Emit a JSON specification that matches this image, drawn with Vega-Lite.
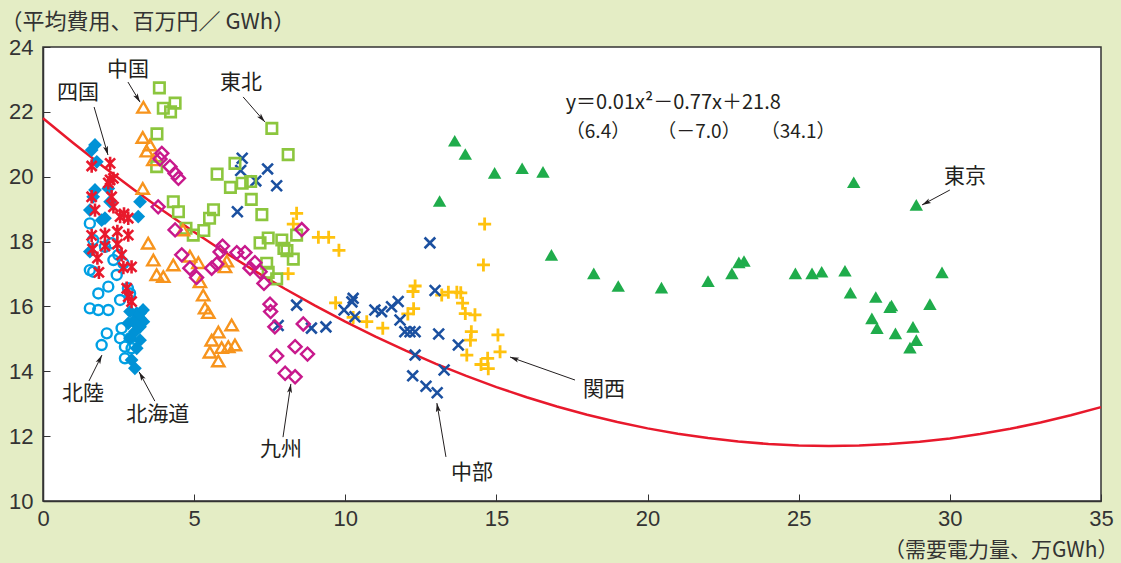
{
  "$schema": "https://vega.github.io/schema/vega-lite/v6.json",
  "width": 1058,
  "height": 454,
  "autosize": {"type": "none"},
  "padding": {"left": 43, "top": 47, "right": 20, "bottom": 62},
  "background": "#e4edc5",
  "config": {
    "view": {"stroke": "#333333", "strokeWidth": 1.5, "fill": "white"},
    "text": {"font": "Noto Sans CJK JP", "color": "#231f20"}
  },
  "datasets": {
    "curve": [
      {"x": 0, "y": 21.8}, {"x": 1, "y": 21.039}, {"x": 2, "y": 20.308}, {"x": 3, "y": 19.606},
      {"x": 4, "y": 18.934}, {"x": 5, "y": 18.293}, {"x": 6, "y": 17.68}, {"x": 7, "y": 17.098},
      {"x": 8, "y": 16.546}, {"x": 9, "y": 16.023}, {"x": 10, "y": 15.53}, {"x": 11, "y": 15.067},
      {"x": 12, "y": 14.634}, {"x": 13, "y": 14.23}, {"x": 14, "y": 13.856}, {"x": 15, "y": 13.513},
      {"x": 16, "y": 13.198}, {"x": 17, "y": 12.914}, {"x": 18, "y": 12.66}, {"x": 19, "y": 12.435},
      {"x": 20, "y": 12.24}, {"x": 21, "y": 12.075}, {"x": 22, "y": 11.94}, {"x": 23, "y": 11.834},
      {"x": 24, "y": 11.758}, {"x": 25, "y": 11.713}, {"x": 26, "y": 11.696}, {"x": 27, "y": 11.71},
      {"x": 28, "y": 11.754}, {"x": 29, "y": 11.827}, {"x": 30, "y": 11.93}, {"x": 31, "y": 12.063},
      {"x": 32, "y": 12.226}, {"x": 33, "y": 12.419}, {"x": 34, "y": 12.642}, {"x": 35, "y": 12.895}
    ],
    "pts": [
      {"r": "東京", "x": 13.62, "y": 21.11}, {"r": "東京", "x": 13.97, "y": 20.70}, {"r": "東京", "x": 14.94, "y": 20.12},
      {"r": "東京", "x": 15.85, "y": 20.26}, {"r": "東京", "x": 16.54, "y": 20.15}, {"r": "東京", "x": 13.12, "y": 19.25},
      {"r": "東京", "x": 16.82, "y": 17.59}, {"r": "東京", "x": 18.22, "y": 17.02}, {"r": "東京", "x": 19.03, "y": 16.63},
      {"r": "東京", "x": 20.46, "y": 16.58}, {"r": "東京", "x": 22.00, "y": 16.78}, {"r": "東京", "x": 22.79, "y": 17.02},
      {"r": "東京", "x": 23.02, "y": 17.36}, {"r": "東京", "x": 23.19, "y": 17.40}, {"r": "東京", "x": 24.89, "y": 17.02},
      {"r": "東京", "x": 25.44, "y": 17.02}, {"r": "東京", "x": 25.76, "y": 17.07}, {"r": "東京", "x": 26.53, "y": 17.10},
      {"r": "東京", "x": 26.82, "y": 19.83}, {"r": "東京", "x": 28.89, "y": 19.13}, {"r": "東京", "x": 29.74, "y": 17.05},
      {"r": "東京", "x": 26.71, "y": 16.42}, {"r": "東京", "x": 27.55, "y": 16.29}, {"r": "東京", "x": 28.07, "y": 16.03},
      {"r": "東京", "x": 28.02, "y": 15.98}, {"r": "東京", "x": 27.42, "y": 15.63}, {"r": "東京", "x": 27.59, "y": 15.33},
      {"r": "東京", "x": 28.20, "y": 15.17}, {"r": "東京", "x": 28.78, "y": 15.37}, {"r": "東京", "x": 28.89, "y": 14.96},
      {"r": "東京", "x": 28.68, "y": 14.73}, {"r": "東京", "x": 29.34, "y": 16.07},

      {"r": "関西", "x": 8.39, "y": 18.87}, {"r": "関西", "x": 8.28, "y": 18.54}, {"r": "関西", "x": 9.11, "y": 18.13},
      {"r": "関西", "x": 9.45, "y": 18.13}, {"r": "関西", "x": 9.79, "y": 17.73}, {"r": "関西", "x": 8.11, "y": 17.01},
      {"r": "関西", "x": 9.68, "y": 16.11}, {"r": "関西", "x": 10.26, "y": 15.66}, {"r": "関西", "x": 10.71, "y": 15.53},
      {"r": "関西", "x": 11.24, "y": 15.33}, {"r": "関西", "x": 14.61, "y": 18.54}, {"r": "関西", "x": 14.57, "y": 17.28},
      {"r": "関西", "x": 12.31, "y": 16.63}, {"r": "関西", "x": 12.24, "y": 16.46}, {"r": "関西", "x": 12.26, "y": 15.93},
      {"r": "関西", "x": 12.07, "y": 15.77}, {"r": "関西", "x": 13.19, "y": 16.35}, {"r": "関西", "x": 13.41, "y": 16.44},
      {"r": "関西", "x": 13.69, "y": 16.44}, {"r": "関西", "x": 13.82, "y": 16.42}, {"r": "関西", "x": 13.88, "y": 16.10},
      {"r": "関西", "x": 13.97, "y": 15.78}, {"r": "関西", "x": 14.29, "y": 15.74}, {"r": "関西", "x": 14.17, "y": 15.22},
      {"r": "関西", "x": 14.14, "y": 14.96}, {"r": "関西", "x": 14.02, "y": 14.50}, {"r": "関西", "x": 14.49, "y": 14.21},
      {"r": "関西", "x": 14.71, "y": 14.40}, {"r": "関西", "x": 14.73, "y": 14.08}, {"r": "関西", "x": 15.05, "y": 15.12},
      {"r": "関西", "x": 15.12, "y": 14.60},

      {"r": "中部", "x": 6.59, "y": 20.57}, {"r": "中部", "x": 6.54, "y": 20.19}, {"r": "中部", "x": 7.04, "y": 19.87},
      {"r": "中部", "x": 7.43, "y": 20.24}, {"r": "中部", "x": 7.73, "y": 19.72}, {"r": "中部", "x": 6.43, "y": 18.92},
      {"r": "中部", "x": 8.39, "y": 16.04}, {"r": "中部", "x": 7.78, "y": 15.41}, {"r": "中部", "x": 8.88, "y": 15.33},
      {"r": "中部", "x": 9.36, "y": 15.37}, {"r": "中部", "x": 9.96, "y": 15.89}, {"r": "中部", "x": 10.26, "y": 16.25},
      {"r": "中部", "x": 10.32, "y": 15.68}, {"r": "中部", "x": 10.22, "y": 16.14}, {"r": "中部", "x": 10.98, "y": 15.89},
      {"r": "中部", "x": 11.20, "y": 15.84}, {"r": "中部", "x": 11.53, "y": 15.99}, {"r": "中部", "x": 11.75, "y": 16.15},
      {"r": "中部", "x": 11.81, "y": 15.58}, {"r": "中部", "x": 11.97, "y": 15.22}, {"r": "中部", "x": 12.14, "y": 15.22},
      {"r": "中部", "x": 12.31, "y": 15.22}, {"r": "中部", "x": 12.80, "y": 17.96}, {"r": "中部", "x": 12.97, "y": 16.49},
      {"r": "中部", "x": 13.09, "y": 15.15}, {"r": "中部", "x": 13.74, "y": 14.81}, {"r": "中部", "x": 12.31, "y": 14.50},
      {"r": "中部", "x": 13.27, "y": 14.04}, {"r": "中部", "x": 12.23, "y": 13.86}, {"r": "中部", "x": 12.67, "y": 13.54},
      {"r": "中部", "x": 13.04, "y": 13.34},

      {"r": "東北", "x": 3.85, "y": 22.74}, {"r": "東北", "x": 3.98, "y": 22.11}, {"r": "東北", "x": 4.22, "y": 22.00},
      {"r": "東北", "x": 4.37, "y": 22.27}, {"r": "東北", "x": 3.77, "y": 21.32}, {"r": "東北", "x": 3.76, "y": 20.31},
      {"r": "東北", "x": 7.57, "y": 21.49}, {"r": "東北", "x": 8.11, "y": 20.68}, {"r": "東北", "x": 5.76, "y": 20.08},
      {"r": "東北", "x": 6.35, "y": 20.41}, {"r": "東北", "x": 6.20, "y": 19.67}, {"r": "東北", "x": 6.59, "y": 19.80},
      {"r": "東北", "x": 6.87, "y": 19.85}, {"r": "東北", "x": 6.89, "y": 19.30}, {"r": "東北", "x": 7.24, "y": 18.83},
      {"r": "東北", "x": 4.31, "y": 19.23}, {"r": "東北", "x": 4.48, "y": 18.92}, {"r": "東北", "x": 5.64, "y": 18.98},
      {"r": "東北", "x": 5.51, "y": 18.72}, {"r": "東北", "x": 5.32, "y": 18.34}, {"r": "東北", "x": 4.97, "y": 18.20},
      {"r": "東北", "x": 4.73, "y": 18.41}, {"r": "東北", "x": 7.18, "y": 17.96}, {"r": "東北", "x": 7.45, "y": 18.11},
      {"r": "東北", "x": 7.90, "y": 18.05}, {"r": "東北", "x": 7.97, "y": 17.79}, {"r": "東北", "x": 8.07, "y": 17.72},
      {"r": "東北", "x": 8.28, "y": 17.46}, {"r": "東北", "x": 7.40, "y": 17.33}, {"r": "東北", "x": 7.45, "y": 17.05},
      {"r": "東北", "x": 7.73, "y": 16.85}, {"r": "東北", "x": 8.39, "y": 18.20},

      {"r": "中国", "x": 3.32, "y": 22.14}, {"r": "中国", "x": 3.30, "y": 21.21}, {"r": "中国", "x": 3.54, "y": 20.98},
      {"r": "中国", "x": 3.43, "y": 20.79}, {"r": "中国", "x": 3.65, "y": 20.52}, {"r": "中国", "x": 3.30, "y": 19.64},
      {"r": "中国", "x": 3.48, "y": 17.95}, {"r": "中国", "x": 3.65, "y": 17.43}, {"r": "中国", "x": 3.76, "y": 16.98},
      {"r": "中国", "x": 3.98, "y": 16.92}, {"r": "中国", "x": 4.31, "y": 17.28}, {"r": "中国", "x": 4.63, "y": 18.36},
      {"r": "中国", "x": 4.86, "y": 17.55}, {"r": "中国", "x": 5.14, "y": 17.35}, {"r": "中国", "x": 5.19, "y": 16.76},
      {"r": "中国", "x": 5.30, "y": 16.35}, {"r": "中国", "x": 5.36, "y": 15.95}, {"r": "中国", "x": 5.47, "y": 15.81},
      {"r": "中国", "x": 5.80, "y": 15.21}, {"r": "中国", "x": 6.24, "y": 15.43}, {"r": "中国", "x": 5.58, "y": 14.96},
      {"r": "中国", "x": 5.91, "y": 14.73}, {"r": "中国", "x": 6.13, "y": 14.76}, {"r": "中国", "x": 6.35, "y": 14.81},
      {"r": "中国", "x": 5.52, "y": 14.59}, {"r": "中国", "x": 5.80, "y": 14.32}, {"r": "中国", "x": 6.08, "y": 17.40},
      {"r": "中国", "x": 6.02, "y": 17.22},

      {"r": "九州", "x": 3.93, "y": 20.72}, {"r": "九州", "x": 3.87, "y": 20.55}, {"r": "九州", "x": 4.20, "y": 20.31},
      {"r": "九州", "x": 4.37, "y": 20.10}, {"r": "九州", "x": 4.48, "y": 19.95}, {"r": "九州", "x": 3.81, "y": 19.07},
      {"r": "九州", "x": 4.37, "y": 18.36}, {"r": "九州", "x": 4.59, "y": 17.59}, {"r": "九州", "x": 4.86, "y": 17.18},
      {"r": "九州", "x": 5.08, "y": 16.89}, {"r": "九州", "x": 5.58, "y": 17.18}, {"r": "九州", "x": 5.75, "y": 17.31},
      {"r": "九州", "x": 5.94, "y": 17.86}, {"r": "九州", "x": 5.86, "y": 17.68}, {"r": "九州", "x": 6.41, "y": 17.66},
      {"r": "九州", "x": 6.68, "y": 17.66}, {"r": "九州", "x": 7.01, "y": 17.35}, {"r": "九州", "x": 6.85, "y": 17.18},
      {"r": "九州", "x": 7.18, "y": 17.07}, {"r": "九州", "x": 7.31, "y": 16.71}, {"r": "九州", "x": 8.56, "y": 18.37},
      {"r": "九州", "x": 7.51, "y": 16.07}, {"r": "九州", "x": 7.53, "y": 15.84}, {"r": "九州", "x": 7.67, "y": 15.37},
      {"r": "九州", "x": 8.61, "y": 15.46}, {"r": "九州", "x": 8.34, "y": 14.76}, {"r": "九州", "x": 8.75, "y": 14.53},
      {"r": "九州", "x": 7.73, "y": 14.47}, {"r": "九州", "x": 8.01, "y": 13.94}, {"r": "九州", "x": 8.34, "y": 13.83},

      {"r": "北陸", "x": 1.55, "y": 18.56}, {"r": "北陸", "x": 1.55, "y": 17.12}, {"r": "北陸", "x": 1.66, "y": 17.07},
      {"r": "北陸", "x": 1.83, "y": 16.40}, {"r": "北陸", "x": 2.16, "y": 16.61}, {"r": "北陸", "x": 1.55, "y": 15.94},
      {"r": "北陸", "x": 1.83, "y": 15.89}, {"r": "北陸", "x": 2.16, "y": 15.89}, {"r": "北陸", "x": 2.55, "y": 16.20},
      {"r": "北陸", "x": 2.11, "y": 15.17}, {"r": "北陸", "x": 1.94, "y": 14.81}, {"r": "北陸", "x": 2.60, "y": 15.33},
      {"r": "北陸", "x": 2.55, "y": 15.02}, {"r": "北陸", "x": 2.88, "y": 15.02}, {"r": "北陸", "x": 2.71, "y": 14.76},
      {"r": "北陸", "x": 2.93, "y": 14.71}, {"r": "北陸", "x": 2.71, "y": 14.40}, {"r": "北陸", "x": 2.49, "y": 17.59},
      {"r": "北陸", "x": 2.33, "y": 17.43}, {"r": "北陸", "x": 2.66, "y": 17.33}, {"r": "北陸", "x": 2.44, "y": 16.97},
      {"r": "北陸", "x": 2.88, "y": 16.40}, {"r": "北陸", "x": 2.27, "y": 17.95}, {"r": "北陸", "x": 2.05, "y": 17.84},
      {"r": "北陸", "x": 1.66, "y": 18.05}, {"r": "北陸", "x": 2.81, "y": 16.56},

      {"r": "北海道", "x": 1.72, "y": 20.98}, {"r": "北海道", "x": 1.61, "y": 20.82}, {"r": "北海道", "x": 1.78, "y": 20.46},
      {"r": "北海道", "x": 1.72, "y": 19.59}, {"r": "北海道", "x": 1.66, "y": 19.38}, {"r": "北海道", "x": 2.16, "y": 19.64},
      {"r": "北海道", "x": 2.22, "y": 19.23}, {"r": "北海道", "x": 1.55, "y": 18.97}, {"r": "北海道", "x": 2.05, "y": 18.72},
      {"r": "北海道", "x": 1.94, "y": 18.66}, {"r": "北海道", "x": 3.21, "y": 19.23}, {"r": "北海道", "x": 3.15, "y": 18.77},
      {"r": "北海道", "x": 1.55, "y": 17.69}, {"r": "北海道", "x": 2.88, "y": 15.84}, {"r": "北海道", "x": 3.10, "y": 15.79},
      {"r": "北海道", "x": 3.21, "y": 15.63}, {"r": "北海道", "x": 3.32, "y": 15.53}, {"r": "北海道", "x": 2.82, "y": 15.48},
      {"r": "北海道", "x": 2.99, "y": 15.53}, {"r": "北海道", "x": 3.21, "y": 15.37}, {"r": "北海道", "x": 3.04, "y": 15.22},
      {"r": "北海道", "x": 2.88, "y": 15.02}, {"r": "北海道", "x": 3.21, "y": 14.96}, {"r": "北海道", "x": 3.10, "y": 14.71},
      {"r": "北海道", "x": 2.93, "y": 14.35}, {"r": "北海道", "x": 3.04, "y": 14.09}, {"r": "北海道", "x": 3.21, "y": 15.79},
      {"r": "北海道", "x": 3.31, "y": 15.89},

      {"r": "四国", "x": 1.61, "y": 20.33}, {"r": "四国", "x": 2.22, "y": 20.41}, {"r": "四国", "x": 2.22, "y": 19.90},
      {"r": "四国", "x": 2.33, "y": 19.95}, {"r": "四国", "x": 2.16, "y": 19.81}, {"r": "四国", "x": 1.61, "y": 19.38},
      {"r": "四国", "x": 2.27, "y": 19.38}, {"r": "四国", "x": 1.72, "y": 18.97}, {"r": "四国", "x": 2.33, "y": 19.07},
      {"r": "四国", "x": 2.55, "y": 18.77}, {"r": "四国", "x": 2.82, "y": 18.72}, {"r": "四国", "x": 1.61, "y": 18.19},
      {"r": "四国", "x": 2.05, "y": 18.23}, {"r": "四国", "x": 2.46, "y": 18.31}, {"r": "四国", "x": 2.82, "y": 18.20},
      {"r": "四国", "x": 1.64, "y": 17.77}, {"r": "四国", "x": 2.05, "y": 17.86}, {"r": "四国", "x": 2.46, "y": 17.92},
      {"r": "四国", "x": 1.80, "y": 17.49}, {"r": "四国", "x": 2.60, "y": 17.59}, {"r": "四国", "x": 2.66, "y": 17.20},
      {"r": "四国", "x": 2.93, "y": 17.22}, {"r": "四国", "x": 1.85, "y": 17.05}, {"r": "四国", "x": 2.77, "y": 16.56},
      {"r": "四国", "x": 2.82, "y": 16.30}, {"r": "四国", "x": 2.93, "y": 16.15}, {"r": "四国", "x": 2.68, "y": 18.85}
    ],
    "arrows": [
      {"x": 1.69, "y": 22.15, "x2": 2.15, "y2": 20.67, "a": 163.7},
      {"x": 2.81, "y": 22.92, "x2": 3.21, "y2": 22.30, "a": 149},
      {"x": 6.62, "y": 22.46, "x2": 7.34, "y2": 21.69, "a": 138.7},
      {"x": 1.52, "y": 13.70, "x2": 1.95, "y2": 14.50, "a": 26.6},
      {"x": 3.70, "y": 13.08, "x2": 3.18, "y2": 13.98, "a": -28.9},
      {"x": 7.94, "y": 11.97, "x2": 8.20, "y2": 13.61, "a": 8.6},
      {"x": 13.33, "y": 11.36, "x2": 13.03, "y2": 13.02, "a": -9.5},
      {"x": 17.60, "y": 13.73, "x2": 15.45, "y2": 14.44, "a": -70.5},
      {"x": 30.00, "y": 19.59, "x2": 29.08, "y2": 19.13, "a": -118.2}
    ],
    "labels": [
      {"t": "四国", "x": 1.16, "y": 22.58},
      {"t": "中国", "x": 2.81, "y": 23.29},
      {"t": "東北", "x": 6.55, "y": 22.89},
      {"t": "北陸", "x": 1.32, "y": 13.30},
      {"t": "北海道", "x": 3.80, "y": 12.65},
      {"t": "九州", "x": 7.87, "y": 11.57},
      {"t": "中部", "x": 14.19, "y": 10.86},
      {"t": "関西", "x": 18.56, "y": 13.42},
      {"t": "東京", "x": 30.50, "y": 19.99}
    ],
    "eq1": [
      {"t": "y＝0.01x²－0.77x＋21.8", "x": 20.85, "y": 22.26}
    ],
    "eq2": [
      {"t": "（6.4）", "x": 18.36, "y": 21.37},
      {"t": "（－7.0）", "x": 21.70, "y": 21.37},
      {"t": "（34.1）", "x": 24.98, "y": 21.37}
    ]
  },
  "encoding": {
    "x": {
      "field": "x", "type": "quantitative",
      "scale": {"domain": [0, 35], "nice": false, "zero": false},
      "axis": {
        "values": [0, 5, 10, 15, 20, 25, 30, 35],
        "grid": false, "tickSize": -7, "tickColor": "#333333", "tickWidth": 1,
        "domainColor": "#333333", "domainWidth": 1.5,
        "labelFont": "Liberation Sans", "labelFontSize": 22, "labelColor": "#333333",
        "labelPadding": 14, "labelFlush": false, "labelOverlap": false,
        "title": "（需要電力量、万GWh）", "titleFont": "Noto Sans CJK JP", "titleFontSize": 21,
        "titleFontWeight": "normal", "titleColor": "#333333",
        "titleX": 1075, "titleY": 49, "titleAlign": "right", "titleBaseline": "middle", "titleAnchor": null
      }
    },
    "y": {
      "field": "y", "type": "quantitative",
      "scale": {"domain": [10, 24], "nice": false, "zero": false},
      "axis": {
        "values": [10, 12, 14, 16, 18, 20, 22, 24],
        "grid": false, "tickSize": -7, "tickColor": "#333333", "tickWidth": 1,
        "domainColor": "#333333", "domainWidth": 1.5,
        "labelFont": "Liberation Sans", "labelFontSize": 22, "labelColor": "#333333",
        "labelPadding": 17, "labelFlush": false, "labelOverlap": false,
        "title": "（平均費用、百万円／ GWh）", "titleFont": "Noto Sans CJK JP", "titleFontSize": 22,
        "titleFontWeight": "normal", "titleColor": "#333333",
        "titleAngle": 0, "titleX": -43, "titleY": -26, "titleAlign": "left", "titleBaseline": "middle", "titleAnchor": null
      }
    }
  },
  "layer": [
    {
      "data": {"name": "curve"},
      "mark": {"type": "line", "color": "#e8192c", "strokeWidth": 2.5}
    },
    {
      "data": {"name": "pts"},
      "transform": [{"filter": "datum.r === '東京'"}],
      "mark": {"type": "point", "shape": "triangle-up", "filled": true, "color": "#1fac4b", "size": 180, "opacity": 1}
    },
    {
      "data": {"name": "pts"},
      "transform": [{"filter": "datum.r === '関西'"}],
      "mark": {"type": "point", "shape": "M-1,0L1,0M0,-1L0,1", "filled": false, "color": "#ffc20e", "size": 170, "strokeWidth": 2.8, "opacity": 1}
    },
    {
      "data": {"name": "pts"},
      "transform": [{"filter": "datum.r === '中部'"}],
      "mark": {"type": "point", "shape": "M-1,-1L1,1M-1,1L1,-1", "filled": false, "color": "#1b50a0", "size": 115, "strokeWidth": 2.6, "opacity": 1}
    },
    {
      "data": {"name": "pts"},
      "transform": [{"filter": "datum.r === '東北'"}],
      "mark": {"type": "point", "shape": "square", "filled": false, "color": "#8cc63e", "size": 110, "strokeWidth": 2.6, "opacity": 1}
    },
    {
      "data": {"name": "pts"},
      "transform": [{"filter": "datum.r === '中国'"}],
      "mark": {"type": "point", "shape": "triangle-up", "filled": false, "color": "#f7941d", "size": 150, "strokeWidth": 2.4, "opacity": 1}
    },
    {
      "data": {"name": "pts"},
      "transform": [{"filter": "datum.r === '九州'"}],
      "mark": {"type": "point", "shape": "diamond", "filled": false, "color": "#c8198c", "size": 170, "strokeWidth": 2.4, "opacity": 1}
    },
    {
      "data": {"name": "pts"},
      "transform": [{"filter": "datum.r === '北陸'"}],
      "mark": {"type": "point", "shape": "circle", "filled": false, "color": "#00a0e4", "size": 100, "strokeWidth": 2.4, "opacity": 1}
    },
    {
      "data": {"name": "pts"},
      "transform": [{"filter": "datum.r === '北海道'"}],
      "mark": {"type": "point", "shape": "diamond", "filled": true, "color": "#0092d6", "size": 190, "opacity": 1}
    },
    {
      "data": {"name": "pts"},
      "transform": [{"filter": "datum.r === '四国'"}],
      "mark": {"type": "point", "shape": "M0,-1L0,1M-0.75,-0.75L0.75,0.75M-0.75,0.75L0.75,-0.75", "filled": false, "color": "#e8192c", "size": 180, "strokeWidth": 2.6, "opacity": 1}
    },
    {
      "data": {"name": "arrows"},
      "mark": {"type": "rule", "color": "#231f20", "strokeWidth": 1},
      "encoding": {"x2": {"field": "x2"}, "y2": {"field": "y2"}}
    },
    {
      "data": {"name": "arrows"},
      "mark": {"type": "point", "shape": "M0,0L0.5,1.8L0,1.4L-0.5,1.8Z", "filled": true, "color": "#231f20", "size": 100, "opacity": 1},
      "encoding": {
        "x": {"field": "x2", "type": "quantitative"},
        "y": {"field": "y2", "type": "quantitative"},
        "angle": {"field": "a", "type": "quantitative", "scale": null}
      }
    },
    {
      "data": {"name": "labels"},
      "mark": {"type": "text", "fontSize": 21, "align": "center", "baseline": "middle"},
      "encoding": {"text": {"field": "t"}}
    },
    {
      "data": {"name": "eq1"},
      "mark": {"type": "text", "fontSize": 20, "align": "center", "baseline": "middle"},
      "encoding": {"text": {"field": "t"}}
    },
    {
      "data": {"name": "eq2"},
      "mark": {"type": "text", "fontSize": 19, "align": "center", "baseline": "middle"},
      "encoding": {"text": {"field": "t"}}
    }
  ]
}
